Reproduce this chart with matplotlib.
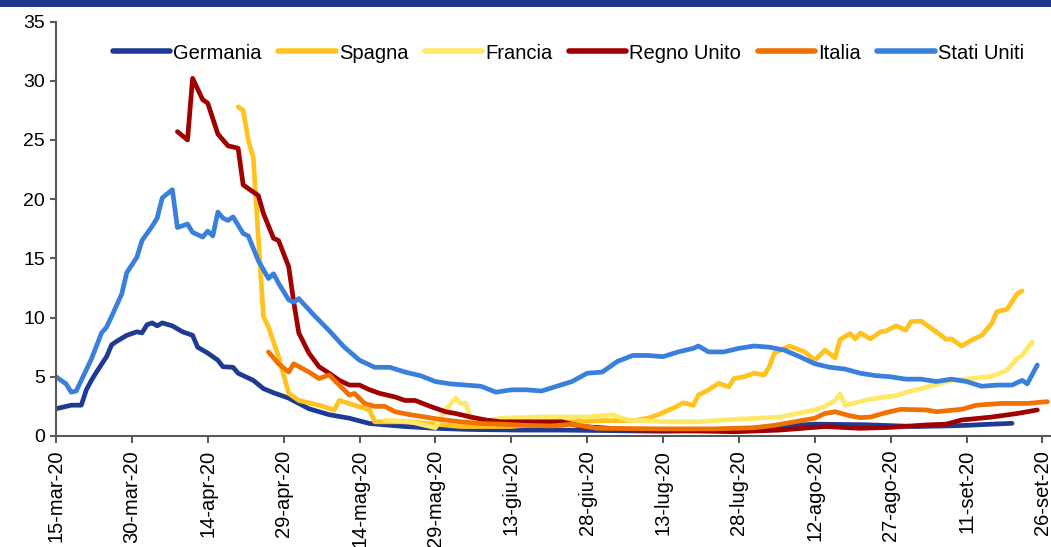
import matplotlib
matplotlib.use("Agg")
import matplotlib.pyplot as plt
from matplotlib.patches import Rectangle
import pandas as pd

plt.rcParams["font.family"] = ["Liberation Sans", "DejaVu Sans"]

start = pd.Timestamp("2020-03-15")

# days since 15-mar-20
de_days = [0, 3, 5, 6, 7, 8, 10, 11, 12, 14, 16, 17, 18, 19, 20, 21, 23, 25, 27, 28,
           30, 32, 33, 35, 36, 39, 41, 43, 46, 50, 54, 58, 62, 69, 75, 82, 92, 100, 110, 120,
           130, 140, 146, 150, 160, 170, 176, 180, 185, 189]
de_vals = [2.3, 2.6, 2.6, 3.9, 4.7, 5.4, 6.7, 7.7, 8.0, 8.5, 8.8, 8.7, 9.4, 9.55, 9.3, 9.55, 9.3, 8.8, 8.5, 7.5,
           7.0, 6.4, 5.85, 5.8, 5.3, 4.7, 4.0, 3.65, 3.2, 2.3, 1.8, 1.5, 1.05, 0.8, 0.65, 0.55, 0.5, 0.5, 0.45, 0.4,
           0.45, 0.6, 0.9, 1.0, 0.95, 0.8, 0.85, 0.9, 1.0, 1.07]

es_days = [36, 37, 38, 39, 40, 41, 42, 44, 46, 48, 50, 52, 55, 56, 59, 62, 63, 70, 75, 80,
           90, 95, 100, 108, 114, 117, 119, 122, 124, 126, 127, 129, 131, 133, 134, 136, 138, 140, 141, 142,
           145, 148, 150, 152, 154, 155, 157, 158, 159, 161, 163, 164, 166, 168, 169, 171, 174, 176, 177, 179,
           181, 183, 185, 186, 188, 190, 191]
es_vals = [27.8, 27.5, 25.0, 23.5, 16.8, 10.1, 9.2, 6.7, 3.6, 3.0, 2.8, 2.6, 2.2, 3.0, 2.6, 2.2, 1.2, 1.2, 1.0, 0.8,
           0.8, 1.0, 1.2, 1.3, 1.3, 1.5, 1.8, 2.35, 2.8, 2.6, 3.45, 3.9, 4.45, 4.15, 4.85, 5.0, 5.3, 5.15, 5.85, 7.0,
           7.6, 7.1, 6.4, 7.25, 6.6, 8.15, 8.65, 8.2, 8.7, 8.2, 8.8, 8.85, 9.3, 8.95, 9.65, 9.7, 8.8, 8.15, 8.2, 7.6,
           8.1, 8.5, 9.5, 10.5, 10.7, 12.0, 12.25]

fr_days = [65, 70, 74, 75, 77, 79, 80, 81, 82, 84, 88, 95, 105, 110, 113, 121, 127, 134, 143, 146,
           150, 152, 154, 155, 156, 159, 161, 164, 166, 169, 171, 174, 177, 181, 185, 188, 190, 191, 193]
fr_vals = [1.35, 1.2, 0.8, 0.7, 2.2, 3.2, 2.75, 2.75, 1.5, 1.2, 1.5, 1.6, 1.6, 1.8, 1.35, 1.2, 1.2, 1.4, 1.6, 1.85,
           2.2, 2.5, 3.0, 3.55, 2.6, 2.9, 3.1, 3.3, 3.4, 3.8, 4.0, 4.35, 4.7, 4.85, 5.05, 5.55, 6.55, 6.8, 7.95]

uk_days = [24, 26, 27, 29, 30, 32, 34, 36, 37, 40, 41, 43, 44, 46, 47, 48, 50, 52, 54, 56,
           58, 60, 62, 64, 67, 69, 71, 74, 77, 79, 82, 85, 88, 92, 100, 104, 115, 125, 134, 143,
           152, 159, 165, 172, 176, 179, 185, 190, 194]
uk_vals = [25.7, 25.0, 30.2, 28.4, 28.1, 25.5, 24.5, 24.3, 21.2, 20.3, 18.8, 16.7, 16.5, 14.3, 11.3, 8.7, 7.0, 5.85, 5.3, 4.7,
           4.3, 4.3, 3.9, 3.6, 3.3, 3.0, 3.0, 2.5, 2.05, 1.9, 1.6, 1.35, 1.2, 1.2, 1.2, 0.8, 0.5, 0.45, 0.36, 0.5,
           0.8, 0.65, 0.73, 0.93, 1.0, 1.35, 1.6, 1.9, 2.2]

it_days = [42, 44, 46, 47, 50, 52, 54, 56, 58, 59, 61, 63, 65, 67, 70, 73, 76, 80, 84, 88,
           93, 98, 102, 107, 120, 130, 138, 142, 146, 150, 152, 154, 157, 159, 161, 164, 167, 172, 174, 179,
           182, 187, 192, 196]
it_vals = [7.1, 6.1, 5.4, 6.1, 5.4, 4.85, 5.15, 4.3, 3.45, 3.6, 2.75, 2.5, 2.5, 2.05, 1.8, 1.6, 1.4, 1.2, 1.05, 1.0,
           0.9, 0.85, 1.0, 0.65, 0.6, 0.6, 0.7, 0.9, 1.2, 1.5, 1.9, 2.05, 1.7, 1.55, 1.6, 1.97, 2.25, 2.2, 2.05, 2.25,
           2.6, 2.75, 2.75, 2.9]

us_days = [0, 2, 3, 4, 5, 6, 7, 9, 10, 11, 13, 14, 16, 17, 19, 20, 21, 23, 24, 26,
           27, 29, 30, 31, 32, 33, 34, 35, 37, 38, 40, 42, 43, 44, 46, 47, 48, 51, 54, 57,
           60, 63, 66, 69, 72, 75, 78, 81, 84, 87, 90, 93, 96, 99, 102, 105, 108, 111, 114, 117,
           120, 123, 126, 127, 129, 132, 135, 138, 141, 144, 147, 150, 153, 156, 159, 162, 165, 168, 171, 174,
           177, 180, 183, 186, 189, 191, 192, 194]
us_vals = [5.0, 4.4, 3.7, 3.8, 4.7, 5.6, 6.5, 8.7, 9.2, 10.1, 12.0, 13.8, 15.1, 16.5, 17.7, 18.4, 20.1, 20.8, 17.6, 17.9,
           17.2, 16.8, 17.3, 16.9, 18.9, 18.4, 18.2, 18.5, 17.1, 16.9, 14.8, 13.3, 13.7, 12.9, 11.5, 11.3, 11.6, 10.2, 8.9, 7.5,
           6.4, 5.8, 5.8, 5.4, 5.1, 4.6, 4.4, 4.3, 4.2, 3.7, 3.9, 3.9, 3.8, 4.2, 4.6, 5.3, 5.4, 6.3, 6.8, 6.8,
           6.7, 7.1, 7.4, 7.6, 7.1, 7.1, 7.4, 7.6, 7.5, 7.25, 6.7, 6.1, 5.8, 5.65, 5.3, 5.1, 5.0, 4.8, 4.8, 4.6,
           4.8, 4.6, 4.2, 4.3, 4.3, 4.7, 4.4, 6.0]

names = ["Germania", "Spagna", "Francia", "Regno Unito", "Italia", "Stati Uniti"]
colors = ["#1f3a93", "#ffc21f", "#ffe866", "#a00000", "#f07000", "#3a7fdc"]
series = [(de_days, de_vals), (es_days, es_vals), (fr_days, fr_vals),
          (uk_days, uk_vals), (it_days, it_vals), (us_days, us_vals)]

tick_labels = ["15-mar-20", "30-mar-20", "14-apr-20", "29-apr-20", "14-mag-20", "29-mag-20", "13-giu-20",
               "28-giu-20", "13-lug-20", "28-lug-20", "12-ago-20", "27-ago-20", "11-set-20", "26-set-20"]

fig = plt.figure(figsize=(10.51, 5.47), dpi=100)
ax = fig.add_axes([56 / 1051, 111 / 547, 995 / 1051, 414.5 / 547])
fig.add_artist(Rectangle((0, 1 - 7 / 547), 1, 7 / 547, transform=fig.transFigure,
                         color="#213a8f", lw=0))

for name, col, (days, vals) in zip(names, colors, series):
    x = start + pd.to_timedelta(days, unit="D")
    ax.plot(x, vals, color=col, lw=3.4, label=name,
            solid_joinstyle="round", solid_capstyle="round")

ax.set_ylim(0, 35)
ax.set_yticks(range(0, 36, 5))
ax.set_xlim(start, start + pd.Timedelta(days=196.7))
ticks = [start + pd.Timedelta(days=15 * i) for i in range(len(tick_labels))]
ax.set_xticks(ticks)
ax.set_xticklabels(tick_labels, rotation=90, fontsize=14.5)

for s in ["top", "right"]:
    ax.spines[s].set_visible(False)
for s in ["left", "bottom"]:
    ax.spines[s].set_color("#595959")
    ax.spines[s].set_linewidth(1.5)
ax.tick_params(axis="x", length=5, width=1.5, color="#595959", pad=5)
ax.tick_params(axis="y", length=4.5, width=1.5, color="#595959", pad=3.5, labelsize=14)

leg = ax.legend(loc="center", bbox_to_anchor=(0.515, 0.924), ncol=6, frameon=False,
                fontsize=14.5, handlelength=2.85, handletextpad=0.15, columnspacing=0.82)
for h in leg.get_lines():
    h.set_linewidth(4)
    h.set_solid_capstyle("round")

fig.savefig("out.png", dpi=100)
